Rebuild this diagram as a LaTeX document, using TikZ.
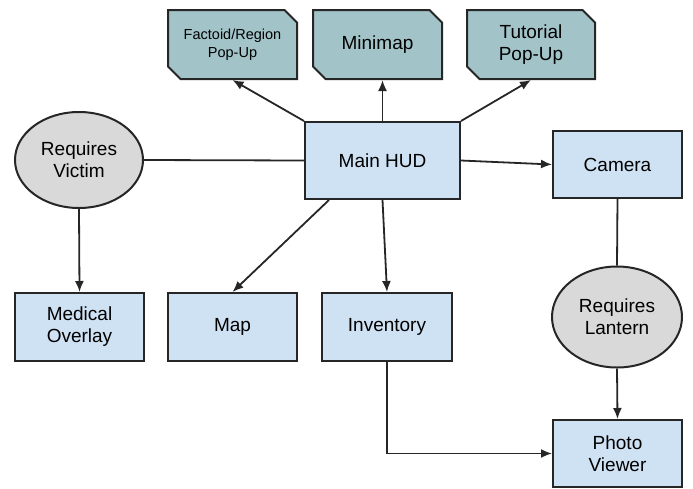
\documentclass[tikz,border=0pt]{standalone}
\usepackage{fontspec}
\setmainfont{Liberation Sans}
\usetikzlibrary{shapes.geometric,shapes.misc,arrows.meta}

\definecolor{hudblue}{RGB}{207,226,243}
\definecolor{popteal}{RGB}{162,196,201}
\definecolor{reqgray}{RGB}{217,217,217}

\tikzset{
  screen/.style={draw=black!85, line width=2pt, fill=hudblue, align=center,
    inner sep=2pt, font=\fontsize{19}{22}\selectfont},
  popup/.style={screen, fill=popteal, chamfered rectangle,
    chamfered rectangle corners={north east,south west},
    chamfered rectangle xsep=9pt},
  req/.style={screen, ellipse, fill=reqgray, inner sep=0pt},
  link/.style={draw=black!85, line width=1.8pt},
  flow/.style={link, -{Latex[length=11pt,width=9pt]}}
}

\begin{document}
\begin{tikzpicture}[x=1pt,y=-1pt]
\useasboundingbox (0,0) rectangle (693,488);

% pop-ups on top
\node[popup, minimum width=129pt, minimum height=69pt, font=\fontsize{14.5}{18}\selectfont] (fact) at (232.5,44.5) {Factoid/Region\\Pop-Up};
\node[popup, minimum width=129pt, minimum height=69pt] (mini) at (377.5,44.5) {Minimap};
\node[popup, minimum width=128pt, minimum height=69pt] (tut) at (531,44.5) {Tutorial\\Pop-Up};

% middle row
\node[req, minimum width=128pt, minimum height=96pt] (victim) at (79,160) {Requires\\Victim};
\node[screen, minimum width=155pt, minimum height=77pt] (hud) at (382.5,160.5) {Main HUD};
\node[screen, minimum width=129pt, minimum height=67pt] (cam) at (617.5,164.5) {Camera};

% bottom row
\node[screen, minimum width=129pt, minimum height=68pt] (med) at (79.5,327) {Medical\\Overlay};
\node[screen, minimum width=129pt, minimum height=68pt] (map) at (232.5,327) {Map};
\node[screen, minimum width=130pt, minimum height=68pt] (inv) at (387,327) {Inventory};
\node[req, minimum width=130pt, minimum height=101pt] (lantern) at (617,317) {Requires\\Lantern};
\node[screen, minimum width=129pt, minimum height=67pt] (photo) at (617.5,453.5) {Photo\\Viewer};

% connectors
\draw[flow] (hud.north west) -- (fact.south);
\draw[flow] (hud.north) -- (hud.north |- mini.south);
\draw[flow] (hud.north east) -- (tut.south);
\draw[link] (victim.east) -- (hud.west);
\draw[flow] (hud.east) -- (cam.west);
\draw[flow] (victim.south) -- (med.north);
\draw[flow] ([xshift=25pt]hud.south west) -- (map.north);
\draw[flow] (hud.south) -- (inv.north);
\draw[link] (cam.south) -- (lantern.north);
\draw[flow] (lantern.south) -- (photo.north);
\draw[flow] (inv.south) |- (photo.west);
\end{tikzpicture}
\end{document}
